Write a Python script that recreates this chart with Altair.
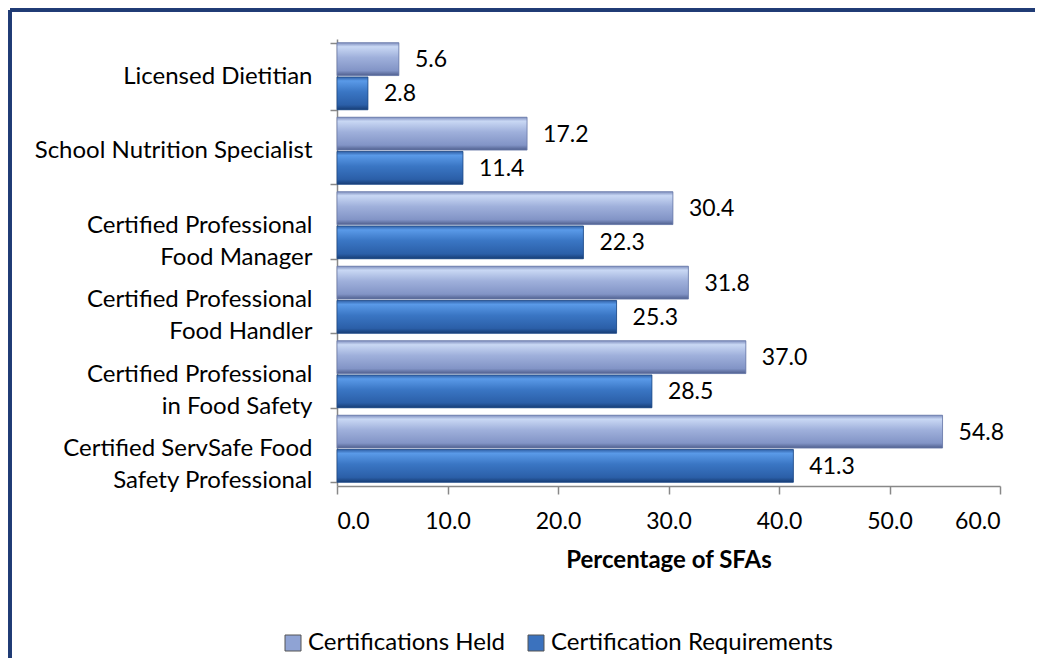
import altair as alt
import pandas as pd

categories = [
    "Licensed Dietitian",
    "School Nutrition Specialist",
    "Certified Professional|Food Manager",
    "Certified Professional|Food Handler",
    "Certified Professional|in Food Safety",
    "Certified ServSafe Food|Safety Professional",
]
held = [5.6, 17.2, 30.4, 31.8, 37.0, 54.8]
requirements = [2.8, 11.4, 22.3, 25.3, 28.5, 41.3]
series = ["Certifications Held", "Certification Requirements"]
x_ticks = [0, 10, 20, 30, 40, 50, 60]

rows = []
for c, h, r in zip(categories, held, requirements):
    rows.append({"cat": c, "series": series[0], "value": h})
    rows.append({"cat": c, "series": series[1], "value": r})
df = pd.DataFrame(rows)

FONT = "Lato"
FS_LBL = 24
FS_NUM = 23

y_enc = alt.Y(
    "cat:N",
    sort=categories,
    scale=alt.Scale(paddingInner=0.1, paddingOuter=0.05),
    axis=alt.Axis(
        title=None,
        labelExpr="split(datum.label, '|')",
        labelFontSize=FS_LBL,
        labelLineHeight=32,
        labelColor="#000000",
        labelFont=FONT,
        labelPadding=18,
        tickBand="extent",
        tickSize=7,
        tickColor="#888888",
        domainColor="#888888",
        domainWidth=1.5,
        tickWidth=1.5,
        labelLimit=400,
    ),
)
yoff = alt.YOffset("series:N", sort=series, scale=alt.Scale(domain=series, paddingInner=0.04))
x_enc = alt.X(
    "value:Q",
    scale=alt.Scale(domain=[0, 60], nice=False),
    axis=alt.Axis(
        values=x_ticks,
        format=".1f",
        title="Percentage of SFAs",
        titleFontSize=FS_LBL,
        titleFont=FONT,
        titleFontWeight="bold",
        titleColor="#000000",
        titlePadding=15,
        labelFontSize=FS_NUM,
        labelFont=FONT,
        labelColor="#000000",
        labelPadding=16,
        tickSize=8,
        tickColor="#888888",
        domainColor="#888888",
        domainWidth=1.5,
        tickWidth=1.5,
        grid=False,
    ),
)

base = alt.Chart(df)

solid = base.mark_bar().encode(
    y=y_enc,
    yOffset=yoff,
    x=x_enc,
    color=alt.Color(
        "series:N",
        sort=series,
        scale=alt.Scale(domain=series, range=["#8FA3D4", "#3B72BE"]),
        legend=alt.Legend(
            title=None,
            orient="none",
            direction="horizontal",
            legendX=-56,
            legendY=592,
            symbolType="square",
            symbolSize=256,
            symbolStrokeColor="#555555",
            symbolStrokeWidth=1,
            labelFontSize=FS_LBL,
            labelFont=FONT,
            labelColor="#000000",
            labelLimit=500,
            columnPadding=18,
            labelOffset=3,
        ),
    ),
)

held_grad = alt.Gradient(
    gradient="linear",
    x1=0, y1=0, x2=0, y2=1,
    stops=[
        alt.GradientStop(offset=0, color="#7f8fbf"),
        alt.GradientStop(offset=0.12, color="#c9d8f4"),
        alt.GradientStop(offset=0.45, color="#9fb0db"),
        alt.GradientStop(offset=0.85, color="#8294c6"),
        alt.GradientStop(offset=1, color="#4f5f8e"),
    ],
)
req_grad = alt.Gradient(
    gradient="linear",
    x1=0, y1=0, x2=0, y2=1,
    stops=[
        alt.GradientStop(offset=0, color="#2f5fa5"),
        alt.GradientStop(offset=0.12, color="#5a9ae8"),
        alt.GradientStop(offset=0.45, color="#3a76c4"),
        alt.GradientStop(offset=0.85, color="#2b5fa8"),
        alt.GradientStop(offset=1, color="#173d75"),
    ],
)

held_layer = base.mark_bar(color=held_grad, stroke="#6a7aa8", strokeWidth=0.8).encode(
    y=y_enc, yOffset=yoff, x=x_enc
).transform_filter(alt.datum.series == series[0])
req_layer = base.mark_bar(color=req_grad, stroke="#1f4a85", strokeWidth=0.8).encode(
    y=y_enc, yOffset=yoff, x=x_enc
).transform_filter(alt.datum.series == series[1])

labels = base.mark_text(
    align="left", baseline="middle", dx=16, dy=1, fontSize=FS_NUM, font=FONT, color="#000000"
).encode(
    y=y_enc, yOffset=yoff, x=x_enc, text=alt.Text("value:Q", format=".1f")
)

frame_top = alt.Chart(df).mark_rule(color="#1F3B73", strokeWidth=2.5, clip=False).encode(
    x=alt.value(-327), x2=alt.value(698), y=alt.value(-29)
)
frame_left = alt.Chart(df).mark_rule(color="#1F3B73", strokeWidth=2.5, clip=False).encode(
    x=alt.value(-327), y=alt.value(-29), y2=alt.value(640)
)

chart = alt.layer(solid, held_layer, req_layer, labels, frame_top, frame_left).properties(
    width=663,
    height=447,
    background="white",
    autosize=alt.AutoSizeParams(type="none"),
    padding={"left": 329, "top": 31, "right": 36, "bottom": 172},
).configure_view(strokeWidth=0, stroke="transparent")

chart.save("out.html", embed_options={"renderer": "svg", "actions": False})
